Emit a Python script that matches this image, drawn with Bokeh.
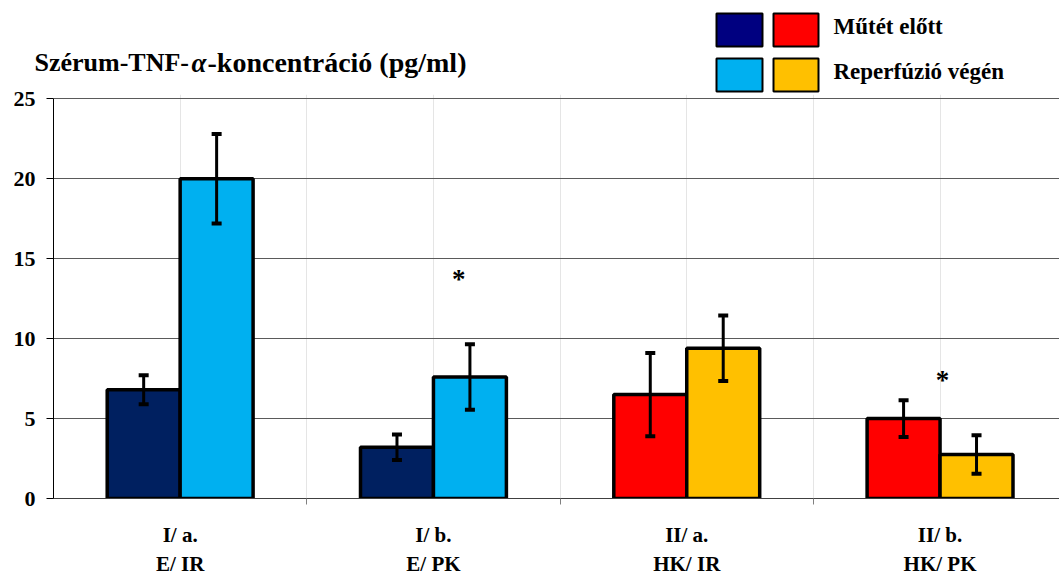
from bokeh.plotting import figure
from bokeh.layouts import column
from bokeh.models import (Range1d, FixedTicker, LinearAxis, Whisker, TeeHead,
                          ColumnDataSource, Grid)
from bokeh.core.properties import value
from bokeh.embed import file_html
from bokeh.resources import INLINE

# ---- data -------------------------------------------------------------
group_codes = ["I/ a.", "I/ b.", "II/ a.", "II/ b."]
group_names = ["E/ IR", "E/ PK", "HK/ IR", "HK/ PK"]
series_labels = ["Műtét előtt", "Reperfúzió végén"]

before_vals = [6.8, 3.2, 6.5, 5.0]
before_err = [0.9, 0.8, 2.6, 1.15]
after_vals = [20.0, 7.6, 9.4, 2.75]
after_err = [2.8, 2.05, 2.05, 1.2]

before_colors = ["#002060", "#002060", "#FF0000", "#FF0000"]
after_colors = ["#00B0F0", "#00B0F0", "#FFC000", "#FFC000"]
legend_colors = [["#000080", "#FF0000"], ["#00B0F0", "#FFC000"]]

y_ticks = [0, 5, 10, 15, 20, 25]
star_groups = [1, 3]

# ---- layout -----------------------------------------------------------
W, H = 1059, 578
HEADER_H = 94            # px band holding title and legend
FRAME_LEFT = 53          # px
FRAME_BOTTOM = 499       # px from page top (y = 0)
PX_PER_UNIT = 16.03      # vertical px per pg/ml
CAT_PX = 253.3           # px per category
BAR_W = 0.288            # bar width in category units
Y_TOP = (FRAME_BOTTOM - HEADER_H) / PX_PER_UNIT
X_END = -0.5 + (W - FRAME_LEFT) / CAT_PX
star_dx = [0.10, 0.01]
star_y = [13.75, 7.4]

SERIF = "Liberation Serif, serif"

# ---- header: title + legend, drawn in pixel space ---------------------
hdr = figure(width=W, height=HEADER_H, x_range=Range1d(0, W), y_range=Range1d(HEADER_H, 0),
             output_backend="svg", toolbar_location=None,
             x_axis_location=None, y_axis_location=None,
             min_border=0, min_border_left=0, min_border_right=0,
             min_border_top=0, min_border_bottom=0)
hdr.frame_align = False
hdr.outline_line_color = None
hdr.xgrid.visible = False
hdr.ygrid.visible = False
hdr.border_fill_color = "white"

box_x = [(716, 762), (773, 818)]
box_y = [(13, 46), (58, 91)]
lq = dict(left=[], right=[], top=[], bottom=[], color=[])
for r, (y0, y1) in enumerate(box_y):
    for c, (x0, x1) in enumerate(box_x):
        lq["left"].append(x0)
        lq["right"].append(x1)
        lq["top"].append(y0)
        lq["bottom"].append(y1)
        lq["color"].append(legend_colors[r][c])
hdr.quad(left="left", right="right", top="top", bottom="bottom", fill_color="color",
         line_color="black", line_width=2, source=ColumnDataSource(lq))
hdr.text(x=[833, 833], y=[26, 71], text=series_labels,
         text_font=value(SERIF), text_font_style="bold", text_font_size="23px",
         text_align="left", text_baseline="middle", text_color="black")

# chart title with italic alpha
title_parts = [("Szérum-TNF-", 34, "bold", "26px"),
               ("α", 191, "bold italic", "27px"),
               ("-koncentráció (pg/ml)", 207, "bold", "28px")]
for txt, px, style, size in title_parts:
    hdr.text(x=[px], y=[62], text=[txt], text_font=value(SERIF),
             text_font_style=style, text_font_size=size,
             text_baseline="middle", text_align="left", text_color="black")

# ---- main chart (its transparent top border sits under the header) ----
p = figure(width=W, height=H, x_range=Range1d(-0.5, X_END), y_range=Range1d(0, Y_TOP),
           output_backend="svg", toolbar_location=None,
           x_axis_location=None, y_axis_location=None,
           min_border_left=FRAME_LEFT, min_border_right=0, min_border_top=HEADER_H,
           min_border_bottom=H - FRAME_BOTTOM)
p.frame_align = False
p.margin = (-HEADER_H, 0, 0, 0)
p.outline_line_color = None
p.background_fill_color = "white"
p.border_fill_color = None

yaxis = LinearAxis(ticker=FixedTicker(ticks=y_ticks), bounds=(0, 25))
yaxis.axis_line_color = "black"
yaxis.axis_line_width = 1
yaxis.major_tick_line_color = "black"
yaxis.major_tick_out = 7
yaxis.major_tick_in = 0
yaxis.minor_tick_line_color = None
yaxis.major_label_text_font = SERIF
yaxis.major_label_text_font_style = "bold"
yaxis.major_label_text_font_size = "22px"
yaxis.major_label_text_color = "black"
yaxis.major_label_standoff = 11
p.add_layout(yaxis, "left")

p.add_layout(Grid(dimension=1, ticker=FixedTicker(ticks=[5, 10, 15, 20, 25]),
                  grid_line_color="#5a5a5a", grid_line_width=1))

# x axis: separator ticks between groups
xsep = LinearAxis(ticker=FixedTicker(ticks=[0.5, 1.5, 2.5]))
xsep.axis_line_color = "#404040"
xsep.major_tick_line_color = "#808080"
xsep.major_tick_out = 6
xsep.major_tick_in = 0
xsep.minor_tick_line_color = None
xsep.major_label_text_font_size = "0px"
xsep.major_label_standoff = 0
xsep.major_label_overrides = {0.5: "", 1.5: "", 2.5: ""}
p.add_layout(xsep, "below")


def label_axis(texts, standoff):
    ax = LinearAxis(ticker=FixedTicker(ticks=list(range(len(texts)))))
    ax.axis_line_color = None
    ax.major_tick_line_color = None
    ax.major_tick_out = 0
    ax.major_tick_in = 0
    ax.minor_tick_line_color = None
    ax.major_label_overrides = {i: t for i, t in enumerate(texts)}
    ax.major_label_text_font = SERIF
    ax.major_label_text_font_style = "bold"
    ax.major_label_text_font_size = "21px"
    ax.major_label_text_color = "black"
    ax.major_label_standoff = standoff
    return ax


p.add_layout(label_axis(group_codes, 18), "below")
p.add_layout(label_axis(group_names, 2), "below")

# bars with error bars
idx = list(range(len(group_codes)))
src_before = ColumnDataSource(dict(
    x=[i - BAR_W / 2 for i in idx], top=before_vals, color=before_colors,
    upper=[v + e for v, e in zip(before_vals, before_err)],
    lower=[v - e for v, e in zip(before_vals, before_err)]))
src_after = ColumnDataSource(dict(
    x=[i + BAR_W / 2 for i in idx], top=after_vals, color=after_colors,
    upper=[v + e for v, e in zip(after_vals, after_err)],
    lower=[v - e for v, e in zip(after_vals, after_err)]))

for src in (src_before, src_after):
    p.vbar(x="x", top="top", bottom=0, width=BAR_W, source=src,
           fill_color="color", line_color="black", line_width=3.5)
for src in (src_before, src_after):
    p.add_layout(Whisker(source=src, base="x", upper="upper", lower="lower",
                         level="overlay", line_color="black", line_width=3,
                         upper_head=TeeHead(size=10, line_width=4, line_color="black"),
                         lower_head=TeeHead(size=10, line_width=4, line_color="black")))

# significance marks
p.text(x=[g + d for g, d in zip(star_groups, star_dx)], y=star_y, text=["*"] * len(star_groups),
       text_font=value(SERIF), text_font_style="bold", text_font_size="27px",
       text_align="center", text_baseline="middle", text_color="black")

layout = column(hdr, p, spacing=0)
open("out.html", "w").write(file_html(layout, INLINE))
